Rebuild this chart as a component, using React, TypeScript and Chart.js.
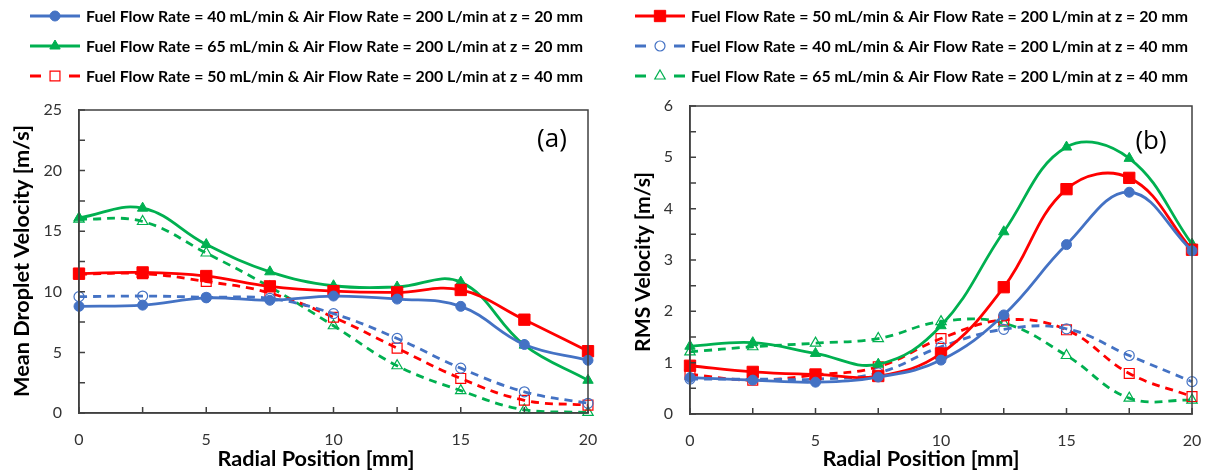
import React, { useEffect, useRef } from 'react';
import { Chart, registerables } from 'chart.js';

Chart.register(...registerables);

const radialPosition = [0, 2.5, 5, 7.5, 10, 12.5, 15, 17.5, 20];

const seriesLabels = [
  'Fuel Flow Rate = 40 mL/min & Air Flow Rate = 200 L/min at z = 20 mm',
  'Fuel Flow Rate = 50 mL/min & Air Flow Rate = 200 L/min at z = 20 mm',
  'Fuel Flow Rate = 65 mL/min & Air Flow Rate = 200 L/min at z = 20 mm',
  'Fuel Flow Rate = 40 mL/min & Air Flow Rate = 200 L/min at z = 40 mm',
  'Fuel Flow Rate = 50 mL/min & Air Flow Rate = 200 L/min at z = 40 mm',
  'Fuel Flow Rate = 65 mL/min & Air Flow Rate = 200 L/min at z = 40 mm',
];

// (a) Mean droplet velocity [m/s]
const meanF40z20 = [8.8, 8.9, 9.5, 9.3, 9.65, 9.4, 8.8, 5.65, 4.35];
const meanF50z20 = [11.5, 11.6, 11.3, 10.45, 10.05, 9.95, 10.15, 7.7, 5.1];
const meanF65z20 = [16.1, 16.9, 13.9, 11.65, 10.5, 10.4, 10.8, 5.6, 2.7];
const meanF40z40 = [9.6, 9.65, 9.55, 9.45, 8.2, 6.15, 3.7, 1.75, 0.8];
const meanF50z40 = [11.45, 11.5, 10.85, 9.9, 7.9, 5.35, 2.85, 1.05, 0.65];
const meanF65z40 = [16.0, 15.8, 13.2, 10.4, 7.2, 3.9, 1.85, 0.25, 0.05];

// (b) RMS velocity [m/s]
const rmsF40z20 = [0.71, 0.66, 0.62, 0.72, 1.05, 1.93, 3.3, 4.32, 3.18];
const rmsF50z20 = [0.94, 0.82, 0.77, 0.74, 1.18, 2.47, 4.38, 4.6, 3.2];
const rmsF65z20 = [1.32, 1.39, 1.18, 0.97, 1.72, 3.55, 5.2, 4.98, 3.31];
const rmsF40z40 = [0.68, 0.68, 0.68, 0.8, 1.31, 1.65, 1.66, 1.14, 0.63];
const rmsF50z40 = [0.77, 0.66, 0.76, 0.92, 1.47, 1.83, 1.64, 0.79, 0.34];
const rmsF65z40 = [1.21, 1.31, 1.38, 1.47, 1.8, 1.77, 1.14, 0.31, 0.27];

const xTicksLabelled = [0, 5, 10, 15, 20];

const BLUE = '#4472C4';
const RED = '#FF0000';
const GREEN = '#00B050';

type Style = { color: string; shape: 'circle' | 'rect' | 'triangle'; dashed: boolean; radius: number };
const styles: Style[] = [
  { color: BLUE, shape: 'circle', dashed: false, radius: 5 },
  { color: RED, shape: 'rect', dashed: false, radius: 8 },
  { color: GREEN, shape: 'triangle', dashed: false, radius: 6 },
  { color: BLUE, shape: 'circle', dashed: true, radius: 5 },
  { color: RED, shape: 'rect', dashed: true, radius: 7 },
  { color: GREEN, shape: 'triangle', dashed: true, radius: 6 },
];

function buildDatasets(series: number[][]) {
  return series.map((vals, i) => {
    const s = styles[i];
    return {
      label: seriesLabels[i],
      data: vals.map((v, k) => ({ x: radialPosition[k], y: v })),
      borderColor: s.color,
      backgroundColor: s.dashed ? 'rgba(0,0,0,0)' : s.color,
      pointBackgroundColor: s.dashed ? 'rgba(0,0,0,0)' : s.color,
      pointBorderColor: s.color,
      pointBorderWidth: s.dashed ? 1.2 : 1,
      pointStyle: s.shape,
      pointRadius: s.radius,
      borderWidth: 2.8,
      borderDash: s.dashed ? [8, 6] : [],
      tension: 0.4,
      fill: false,
      clip: false,
    };
  });
}

function fitFont(ctx: CanvasRenderingContext2D, text: string, weight: string, family: string, target: number, base: number) {
  ctx.font = `${weight} ${base}px ${family}`;
  const w = ctx.measureText(text).width;
  const size = (base * target) / w;
  return `${weight} ${size.toFixed(2)}px ${family}`;
}

function drawMarker(ctx: CanvasRenderingContext2D, s: Style, x: number, y: number) {
  ctx.save();
  ctx.setLineDash([]);
  ctx.strokeStyle = s.color;
  ctx.fillStyle = s.color;
  ctx.lineWidth = s.dashed ? 1.2 : 1;
  const r = s.radius;
  ctx.beginPath();
  if (s.shape === 'circle') {
    ctx.arc(x, y, r, 0, Math.PI * 2);
  } else if (s.shape === 'rect') {
    const h = r * Math.SQRT1_2;
    ctx.rect(x - h, y - h, 2 * h, 2 * h);
  } else {
    const side = (3 * r) / Math.sqrt(3);
    const height = (side * Math.sqrt(3)) / 2;
    ctx.moveTo(x, y - (2 * height) / 3);
    ctx.lineTo(x + side / 2, y + height / 3);
    ctx.lineTo(x - side / 2, y + height / 3);
    ctx.closePath();
  }
  if (!s.dashed) ctx.fill();
  ctx.stroke();
  ctx.restore();
}

const overlayPlugin = {
  id: 'overlay',
  afterDraw(chart: any, _args: any, opts: any) {
    const { ctx, chartArea: ca, scales } = chart;
    ctx.save();
    // frame
    ctx.strokeStyle = '#404040';
    ctx.lineWidth = 1.5;
    ctx.setLineDash([]);
    ctx.strokeRect(ca.left, ca.top, ca.right - ca.left, ca.bottom - ca.top);
    // inside tick marks
    ctx.beginPath();
    scales.x.ticks.forEach((t: any) => {
      const px = scales.x.getPixelForValue(t.value);
      ctx.moveTo(px, ca.bottom);
      ctx.lineTo(px, ca.bottom - 6);
    });
    scales.y.ticks.forEach((t: any) => {
      const py = scales.y.getPixelForValue(t.value);
      ctx.moveTo(ca.left, py);
      ctx.lineTo(ca.left + 6, py);
    });
    ctx.stroke();

    // panel letter
    ctx.fillStyle = '#000';
    ctx.font = '26px "Open Sans"';
    ctx.textAlign = 'center';
    ctx.textBaseline = 'middle';
    ctx.fillText(opts.panel, opts.panelX, opts.panelY);

    // axis titles
    ctx.font = fitFont(ctx, opts.xTitle, 'bold', 'Lato', 197, 18);
    ctx.fillText(opts.xTitle, 316, 459);
    ctx.save();
    ctx.translate(opts.yTitleX, opts.yTitleY);
    ctx.rotate(-Math.PI / 2);
    ctx.font = fitFont(ctx, opts.yTitle, 'bold', 'Lato', opts.yTitleW, 18);
    ctx.fillText(opts.yTitle, 0, 0);
    ctx.restore();

    // legend
    const rows = [16, 46, 76];
    ctx.textAlign = 'left';
    ctx.textBaseline = 'middle';
    opts.legend.forEach((di: number, r: number) => {
      const s = styles[di];
      const y = rows[r];
      const x0 = 30;
      const x1 = 80;
      const xm = 55;
      ctx.strokeStyle = s.color;
      ctx.lineWidth = 2.8;
      ctx.setLineDash([]);
      ctx.beginPath();
      if (s.dashed) {
        ctx.moveTo(x0, y);
        ctx.lineTo(x0 + 11, y);
        ctx.moveTo(x1 - 11, y);
        ctx.lineTo(x1, y);
      } else {
        ctx.moveTo(x0, y);
        ctx.lineTo(x1, y);
      }
      ctx.stroke();
      drawMarker(ctx, s, xm, y);
      const label = seriesLabels[di];
      ctx.fillStyle = '#000';
      ctx.font = fitFont(ctx, label, 'bold', 'Lato', 497, 14);
      ctx.fillText(label, 86, y + 1);
    });
    ctx.restore();
  },
};

function makeConfig(series: number[][], yMax: number, yStep: number, yLabelStep: number, overlay: any) {
  return {
    type: 'line' as const,
    data: { datasets: buildDatasets(series) },
    plugins: [overlayPlugin],
    options: {
      responsive: false,
      animation: false as const,
      devicePixelRatio: 1,
      layout: { padding: { left: 0, right: overlay.right, top: overlay.top, bottom: 0 } },
      plugins: {
        legend: { display: false },
        tooltip: { enabled: false },
        overlay,
      },
      scales: {
        x: {
          type: 'linear' as const,
          min: 0,
          max: 20,
          grid: { display: false, drawTicks: false },
          border: { display: true, color: '#404040', width: 1.5 },
          afterFit: (s: any) => {
            s.height = 472 - overlay.bottom;
            s.paddingLeft = 0;
            s.paddingRight = 0;
          },
          ticks: {
            stepSize: 2.5,
            autoSkip: false,
            maxRotation: 0,
            padding: 17,
            color: '#333',
            font: { family: 'Lato', size: 16 },
            callback: (v: number) => (xTicksLabelled.includes(v) ? String(v) : ''),
          },
        },
        y: {
          type: 'linear' as const,
          min: 0,
          max: yMax,
          grid: { display: false, drawTicks: false },
          border: { display: true, color: '#404040', width: 1.5 },
          afterFit: (s: any) => {
            s.width = overlay.left;
            s.paddingTop = 0;
            s.paddingBottom = 0;
          },
          ticks: {
            stepSize: yStep,
            autoSkip: false,
            padding: 17,
            color: '#333',
            font: { family: 'Lato', size: 16 },
            callback: (v: number) => (Math.abs(v / yLabelStep - Math.round(v / yLabelStep)) < 1e-6 ? String(v) : ''),
          },
        },
      },
    },
  };
}

function Panel({ config }: { config: any }) {
  const ref = useRef<HTMLCanvasElement | null>(null);
  useEffect(() => {
    if (!ref.current) return;
    const chart = new Chart(ref.current, config);
    return () => chart.destroy();
  }, [config]);
  return <canvas ref={ref} width={605} height={472} style={{ width: 605, height: 472, display: 'block' }} />;
}

const configA = makeConfig(
  [meanF40z20, meanF50z20, meanF65z20, meanF40z40, meanF50z40, meanF65z40],
  25,
  2.5,
  5,
  {
    panel: '(a)', panelX: 552, panelY: 140,
    xTitle: 'Radial Position [mm]',
    yTitle: 'Mean Droplet Velocity [m/s]', yTitleX: 22, yTitleY: 261, yTitleW: 272,
    legend: [0, 2, 4],
    top: 110, bottom: 413, left: 79, right: 17,
  }
);

const configB = makeConfig(
  [rmsF40z20, rmsF50z20, rmsF65z20, rmsF40z40, rmsF50z40, rmsF65z40],
  6,
  0.5,
  1,
  {
    panel: '(b)', panelX: 546, panelY: 142,
    xTitle: 'Radial Position [mm]',
    yTitle: 'RMS Velocity [m/s]', yTitleX: 38, yTitleY: 262, yTitleW: 180,
    legend: [1, 3, 5],
    top: 106, bottom: 414, left: 85, right: 18,
  }
);

export default function App() {
  return (
    <div style={{ position: 'fixed', left: 0, top: 0, width: 1210, height: 472, background: '#fff', display: 'flex' }}>
      <Panel config={configA} />
      <Panel config={configB} />
    </div>
  );
}
